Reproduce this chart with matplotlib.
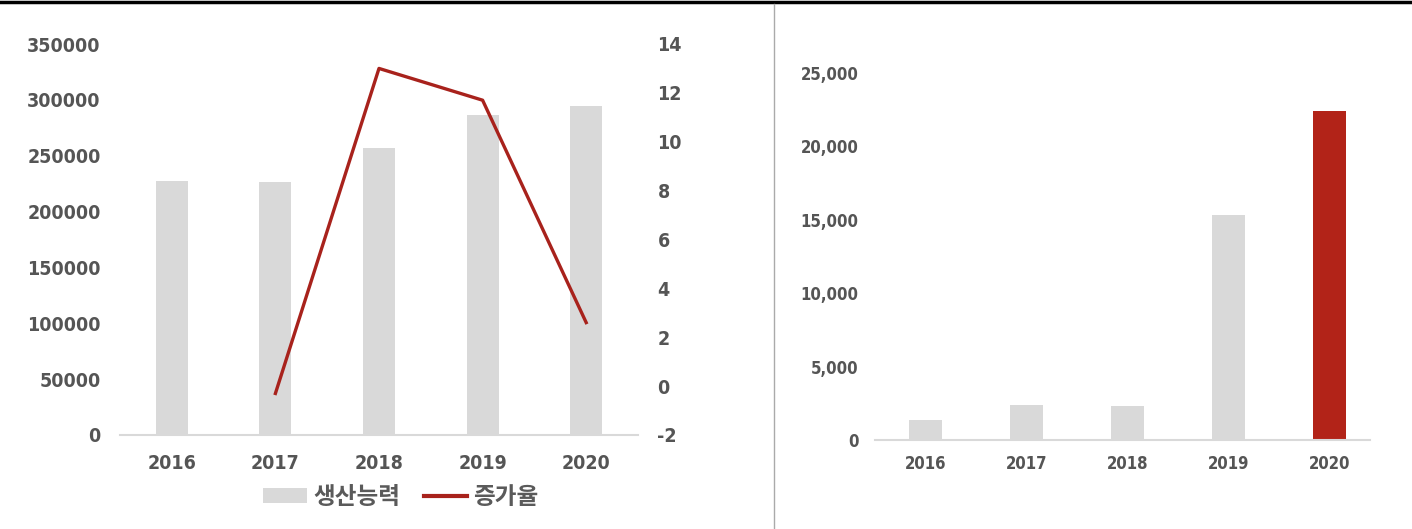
import matplotlib
matplotlib.use("Agg")
import matplotlib.pyplot as plt
from matplotlib.patches import Patch
from matplotlib.lines import Line2D

years = ["2016", "2017", "2018", "2019", "2020"]
capacity = [227000, 226500, 257000, 286000, 294500]
growth_years = ["2017", "2018", "2019", "2020"]
growth = [-0.3, 13.0, 11.7, 2.6]

right_years = ["2016", "2017", "2018", "2019", "2020"]
right_values = [1350, 2400, 2300, 15300, 22400]

left_ticks = [0, 50000, 100000, 150000, 200000, 250000, 300000, 350000]
right_axis_ticks = [-2, 0, 2, 4, 6, 8, 10, 12, 14]
right_chart_ticks = [0, 5000, 10000, 15000, 20000, 25000]

GRAY_BAR = "#d9d9d9"
RED_LINE = "#a8221c"
RED_BAR = "#b22318"
TXT = "#555555"
NUM_FONT = dict(family="DejaVu Sans", stretch="condensed", weight="bold")

W, H = 1412, 529
fig = plt.figure(figsize=(W / 100, H / 100), dpi=100)

def fx(px):
    return px / W

def fy(py):
    return 1 - py / H

# ---- Left chart ----
ax1 = fig.add_axes([fx(120), fy(435), fx(638) - fx(120), fy(44) - fy(435)])
xpos = list(range(len(years)))
ax1.bar(xpos, capacity, width=0.31, color=GRAY_BAR, zorder=2)
ax1.set_xlim(-0.5, 4.5)
ax1.set_ylim(0, 350000)
ax1.set_yticks(left_ticks)
ax1.set_yticklabels([str(t) for t in left_ticks])
ax1.set_xticks(xpos)
ax1.set_xticklabels(years)
for s in ["top", "right", "left"]:
    ax1.spines[s].set_visible(False)
ax1.spines["bottom"].set_color(GRAY_BAR)
ax1.spines["bottom"].set_linewidth(1.5)
ax1.tick_params(axis="y", length=0, pad=14, labelcolor=TXT)
ax1.tick_params(axis="x", length=0, pad=14, labelcolor=TXT)
for lab in ax1.get_yticklabels() + ax1.get_xticklabels():
    lab.set(**NUM_FONT, fontsize=14)

ax2 = ax1.twinx()
gx = [years.index(y) for y in growth_years]
ax2.plot(gx, growth, color=RED_LINE, linewidth=2.4, zorder=3)
ax2.set_ylim(-2, 14)
ax2.set_yticks(right_axis_ticks)
ax2.set_yticklabels([str(t) for t in right_axis_ticks])
for s in ["top", "right", "left", "bottom"]:
    ax2.spines[s].set_visible(False)
ax2.tick_params(axis="y", length=0, pad=14, labelcolor=TXT)
for lab in ax2.get_yticklabels():
    lab.set(**NUM_FONT, fontsize=14)

handles = [Patch(facecolor=GRAY_BAR, edgecolor="none"),
           Line2D([0], [0], color=RED_LINE, linewidth=3)]
leg = fig.legend(handles, ["생산능력", "증가율"], loc="center",
                 bbox_to_anchor=(fx(401), fy(497)), ncol=2, frameon=False,
                 prop={"family": ["Noto Sans CJK KR", "DejaVu Sans"], "size": 17, "weight": "bold"},
                 handlelength=1.85, handleheight=0.6, handletextpad=0.25, columnspacing=1.0)
for t in leg.get_texts():
    t.set_color("#5a5a5a")

# ---- Right chart ----
ax3 = fig.add_axes([fx(875), fy(440), fx(1370) - fx(875), fy(73) - fy(440)])
rx = list(range(len(right_years)))
colors = [GRAY_BAR] * (len(right_years) - 1) + [RED_BAR]
ax3.bar(rx, right_values, width=0.32, color=colors, zorder=2)
ax3.set_xlim(-0.5, 4.4)
ax3.set_ylim(0, 25000)
ax3.set_yticks(right_chart_ticks)
ax3.set_yticklabels([f"{t:,}" for t in right_chart_ticks])
ax3.set_xticks(rx)
ax3.set_xticklabels(right_years)
for s in ["top", "right", "left"]:
    ax3.spines[s].set_visible(False)
ax3.spines["bottom"].set_color(GRAY_BAR)
ax3.spines["bottom"].set_linewidth(1.5)
ax3.tick_params(axis="y", length=0, pad=12, labelcolor=TXT)
ax3.tick_params(axis="x", length=0, pad=11, labelcolor=TXT)
for lab in ax3.get_yticklabels() + ax3.get_xticklabels():
    lab.set(**NUM_FONT, fontsize=12)

# ---- Frame lines ----
fig.add_artist(Line2D([0, 1], [fy(2), fy(2)], color="black", linewidth=2.5, transform=fig.transFigure))
fig.add_artist(Line2D([fx(774), fx(774)], [fy(4), 0], color="#aaaaaa", linewidth=1, transform=fig.transFigure))

fig.savefig("out.png", dpi=100)
